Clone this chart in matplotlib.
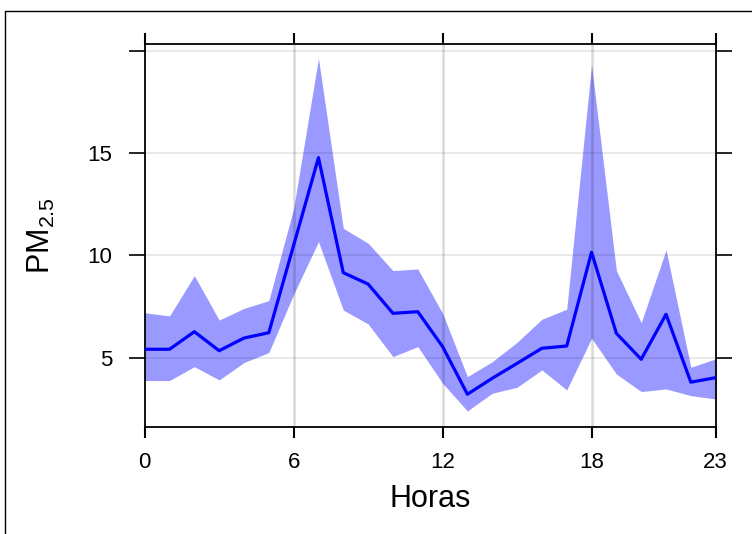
import numpy as np
from matplotlib import pyplot as plt
from matplotlib.lines import Line2D

plt.rcParams['font.family'] = ['Liberation Sans', 'DejaVu Sans']
plt.rcParams['mathtext.fontset'] = 'custom'
plt.rcParams['mathtext.rm'] = 'Liberation Sans'
plt.rcParams['mathtext.default'] = 'regular'

# hourly mean PM2.5 and confidence band
hours = np.arange(24)
pm_mean = [5.41, 5.41, 6.27, 5.34, 5.96, 6.22, 10.5, 14.79, 9.16, 8.6, 7.17, 7.25,
           5.54, 3.21, 3.99, 4.72, 5.46, 5.57, 10.16, 6.19, 4.92, 7.12, 3.80, 4.02]
pm_upper = [7.2, 7.04, 9.01, 6.84, 7.41, 7.79, 12.3, 19.65, 11.33, 10.6, 9.26, 9.34,
            7.17, 4.07, 4.8, 5.75, 6.88, 7.37, 19.32, 9.26, 6.71, 10.27, 4.53, 4.94]
pm_lower = [3.88, 3.88, 4.56, 3.91, 4.76, 5.25, 8.1, 10.68, 7.33, 6.65, 5.05, 5.54,
            3.75, 2.39, 3.26, 3.55, 4.4, 3.42, 5.95, 4.2, 3.34, 3.47, 3.14, 2.98]
xticks = [0, 6, 12, 18, 23]
yticks = [5, 10, 15, 20]
ytick_labels = ['5', '10', '15', '']

fig = plt.figure(figsize=(7.52, 5.34), dpi=100)
ax = fig.add_axes([0.1924, 0.2009, 0.7593, 0.7167])

# outer frame (only top and left visible)
fig.add_artist(Line2D([5/752, 5/752, 1.0], [0.0, 1 - 11/534, 1 - 11/534],
                      transform=fig.transFigure, color='black', lw=1))

ax.fill_between(hours, pm_lower, pm_upper, color='#9999FF', lw=0, zorder=1)
for y in yticks:
    ax.axhline(y, color='#000000', alpha=0.1, lw=1.2, zorder=2)
for x in [6, 12, 18]:
    ax.axvline(x, color='#000000', alpha=0.15, lw=1.8, zorder=2)
ax.plot(hours, pm_mean, color='#0000FF', lw=2.3, zorder=3)

ax.set_xlim(0, 23)
ax.set_ylim(1.62, 20.35)
ax.set_xticks(xticks)
ax.set_yticks(yticks)
ax.set_yticklabels(ytick_labels)

for s in ax.spines.values():
    s.set_linewidth(1.3)
ax.tick_params(axis='x', direction='out', top=True, length=8, width=1.5,
               labelsize=16, pad=10)
ax.tick_params(axis='y', direction='out', right=True, length=11.5, width=1.2,
               labelsize=16, pad=12)

ax.set_xlabel('Horas', fontsize=22, labelpad=8)
ax.set_ylabel(r'PM$_{2.5}$', fontsize=22, labelpad=22)

fig.savefig('out.png', dpi=100)
